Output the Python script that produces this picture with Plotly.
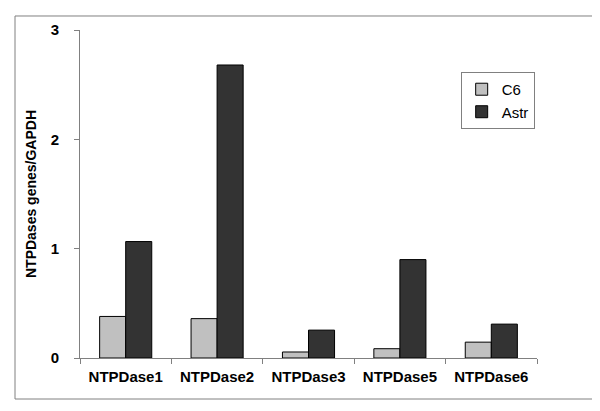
import plotly.graph_objects as go

categories = ["NTPDase1", "NTPDase2", "NTPDase3", "NTPDase5", "NTPDase6"]
c6_values = [0.38, 0.36, 0.055, 0.085, 0.145]
astr_values = [1.065, 2.68, 0.255, 0.90, 0.31]
y_ticks = [0, 1, 2, 3]

FONT = "Liberation Sans, Arial, sans-serif"

fig = go.Figure()
fig.add_trace(go.Bar(name="C6", x=categories, y=c6_values,
                     marker=dict(color="#c0c0c0", line=dict(color="#000000", width=1))))
fig.add_trace(go.Bar(name="Astr", x=categories, y=astr_values,
                     marker=dict(color="#333333", line=dict(color="#000000", width=1))))

# outer frame in paper coords
fig.add_shape(type="rect", xref="paper", yref="paper",
              x0=-0.1422, x1=1.1379, y0=-0.125, y1=1.0427,
              line=dict(color="#808080", width=1), fillcolor="rgba(0,0,0,0)", layer="below")

fig.update_layout(
    width=600, height=411,
    margin=dict(l=72, r=71, t=22, b=61),
    paper_bgcolor="white", plot_bgcolor="white",
    barmode="group", bargap=0.43, bargroupgap=0,
    font=dict(family=FONT, color="#000000"),
    showlegend=True,
    legend=dict(x=0.833, y=0.872, xanchor="left", yanchor="top",
                bgcolor="white", bordercolor="#808080", borderwidth=1,
                font=dict(size=15, family=FONT), itemwidth=30,
                tracegroupgap=6),
    xaxis=dict(type="category", showline=True, linecolor="#808080", linewidth=1,
               ticks="outside", tickson="boundaries", ticklen=5, tickcolor="#808080",
               ticklabelstandoff=5,
               tickfont=dict(size=15, family=FONT, weight="bold"), showgrid=False,
               zeroline=False),
    yaxis=dict(range=[0, 3], tickvals=y_ticks, showline=True, linecolor="#808080",
               linewidth=1, ticks="outside", ticklen=5, tickcolor="#808080",
               ticklabelstandoff=12,
               tickfont=dict(size=15, family=FONT, weight="bold"), showgrid=False,
               zeroline=False,
               title=dict(text="NTPDases genes/GAPDH", standoff=10,
                          font=dict(size=14, family=FONT, weight="bold"))),
)

fig.write_html("out.html")
